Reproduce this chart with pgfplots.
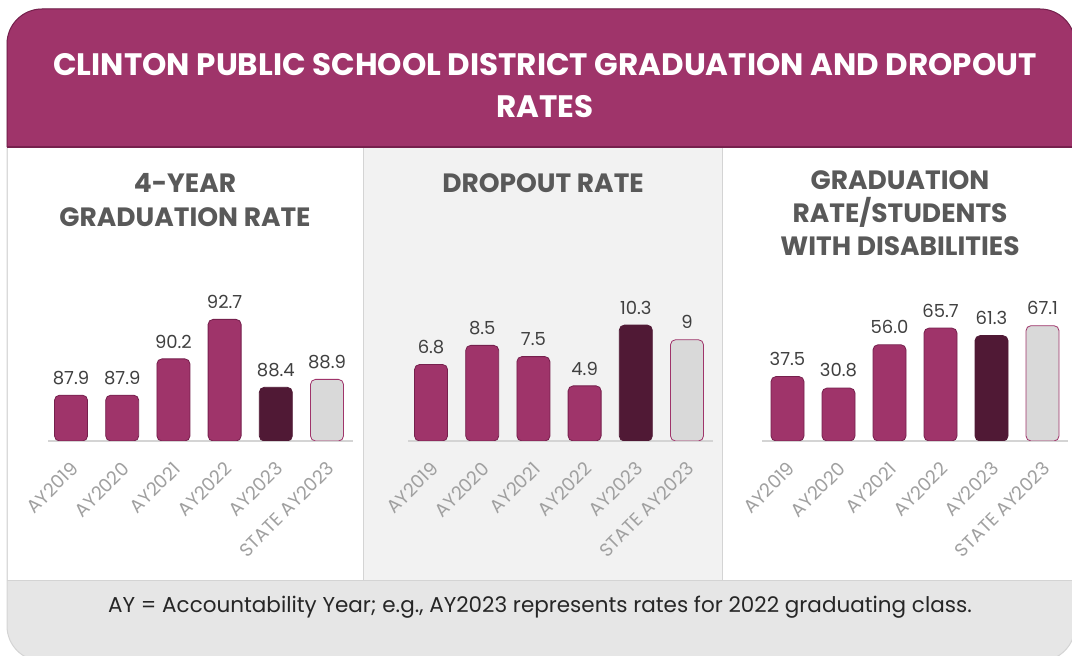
\documentclass[border=0pt]{standalone}
\usepackage{pgfplots}
\pgfplotsset{compat=1.18}
\usepackage{fontspec}
\setmainfont{Poppins}
\definecolor{mag}{RGB}{159,52,106}
\definecolor{magline}{RGB}{118,32,77}
\definecolor{darkmag}{RGB}{80,25,53}
\definecolor{stategray}{RGB}{217,217,217}
\definecolor{panelgray}{RGB}{242,242,242}
\definecolor{footgray}{RGB}{230,230,230}
\definecolor{bordergray}{RGB}{212,212,212}
\definecolor{titlegray}{RGB}{89,89,89}
\definecolor{labgray}{RGB}{64,64,64}
\definecolor{tickgray}{RGB}{160,160,160}
\definecolor{foottext}{RGB}{38,38,38}
\pgfplotsset{
  panel/.style={
    scale only axis, height=160pt,
    axis x line*=bottom, axis y line=none,
    axis line style={-, bordergray, line width=1.6pt},
    ytick=\empty,
    xtick={0,...,5},
    xticklabels={AY2019,AY2020,AY2021,AY2022,AY2023,STATE AY2023},
    major tick length=0pt,
    xticklabel style={text=tickgray, font=\fontsize{18.5}{18.5}\selectfont,
      anchor=east, xshift=6pt, yshift=-22pt, rotate=45},
    point meta=explicit symbolic,
    nodes near coords={\pgfplotspointmeta},
    nodes near coords style={text=labgray, font=\fontsize{18}{18}\selectfont, anchor=south, yshift=7pt},
    ybar, bar width=33pt, bar shift=0pt,
  },
  magbar/.style={fill=mag, draw=magline, line width=0.8pt, rounded corners=5pt},
  darkbar/.style={fill=darkmag, draw=darkmag, line width=0.8pt, rounded corners=5pt},
  statebar/.style={fill=stategray, draw=mag, line width=0.8pt, rounded corners=5pt},
}
\begin{document}
\begin{tikzpicture}[x=1pt,y=1pt]
\useasboundingbox (0,0) rectangle (1072,656);
\begin{scope}
\clip (0,0) rectangle (1072,656);
% frame with footer colour
\draw[fill=footgray, draw=bordergray, line width=1pt, rounded corners=35pt] (7,-5) rectangle (1075,647);
% panels
\fill[white] (7.5,75) rectangle (363,509);
\fill[panelgray] (363,75) rectangle (722,509);
\fill[white] (722,75) rectangle (1074,509);
\draw[bordergray, line width=1pt] (363,75) -- (363,509);
\draw[bordergray, line width=1pt] (722,75) -- (722,509);
\draw[bordergray, line width=1pt] (7,75) -- (1075,75);
% header
\fill[mag] (7,509) [rounded corners=35pt] -- (7,647) -- (1075,647) [sharp corners] -- (1075,509) -- cycle;
\draw[magline, line width=1pt] (7,509) [rounded corners=35pt] -- (7,647) -- (1075,647) [sharp corners] -- (1075,509);
\draw[magline, line width=1.5pt] (7,509) -- (1075,509);
\end{scope}
% main title
\node[text=white, font=\bfseries\fontsize{31}{42}\selectfont, align=center] at (545,570)
  {CLINTON PUBLIC SCHOOL DISTRICT GRADUATION AND DROPOUT\\RATES};
% panel titles
\node[text=titlegray, font=\bfseries\fontsize{26.5}{34.5}\selectfont, align=center] at (185,456)
  {4-YEAR\\GRADUATION RATE};
\node[text=titlegray, font=\bfseries\fontsize{26.5}{34}\selectfont, align=center] at (543,473)
  {DROPOUT RATE};
\node[text=titlegray, font=\bfseries\fontsize{26.5}{33}\selectfont, align=center] at (900,443)
  {GRADUATION\\RATE/STUDENTS\\WITH DISABILITIES};
% footer
\node[text=foottext, font=\fontsize{21.5}{24}\selectfont] at (540,49)
  {AY = Accountability Year; e.g., AY2023 represents rates for 2022 graduating class.};

% Panel 1
\begin{axis}[panel, at={(48pt,215pt)}, anchor=south west, width=304.6pt,
  xmin=-0.45, xmax=5.5, ymin=85, ymax=95.13]
\addplot[magbar] coordinates {(0,87.9) [87.9] (1,87.9) [87.9] (2,90.2) [90.2] (3,92.7) [92.7]};
\addplot[darkbar] coordinates {(4,88.4) [88.4]};
\addplot[statebar] coordinates {(5,88.9) [88.9]};
\end{axis}

% Panel 2
\begin{axis}[panel, at={(408pt,215pt)}, anchor=south west, width=304.6pt,
  xmin=-0.45, xmax=5.5, ymin=0, ymax=14.22]
\addplot[magbar] coordinates {(0,6.8) [6.8] (1,8.5) [8.5] (2,7.5) [7.5] (3,4.9) [4.9]};
\addplot[darkbar] coordinates {(4,10.3) [10.3]};
\addplot[statebar] coordinates {(5,9) [9]};
\end{axis}

% Panel 3
\begin{axis}[panel, at={(762pt,215pt)}, anchor=south west, width=306pt,
  xmin=-0.5, xmax=5.5, ymin=0, ymax=93.1]
\addplot[magbar] coordinates {(0,37.5) [37.5] (1,30.8) [30.8] (2,56.0) [56.0] (3,65.7) [65.7]};
\addplot[darkbar] coordinates {(4,61.3) [61.3]};
\addplot[statebar] coordinates {(5,67.1) [67.1]};
\end{axis}
\end{tikzpicture}
\end{document}
